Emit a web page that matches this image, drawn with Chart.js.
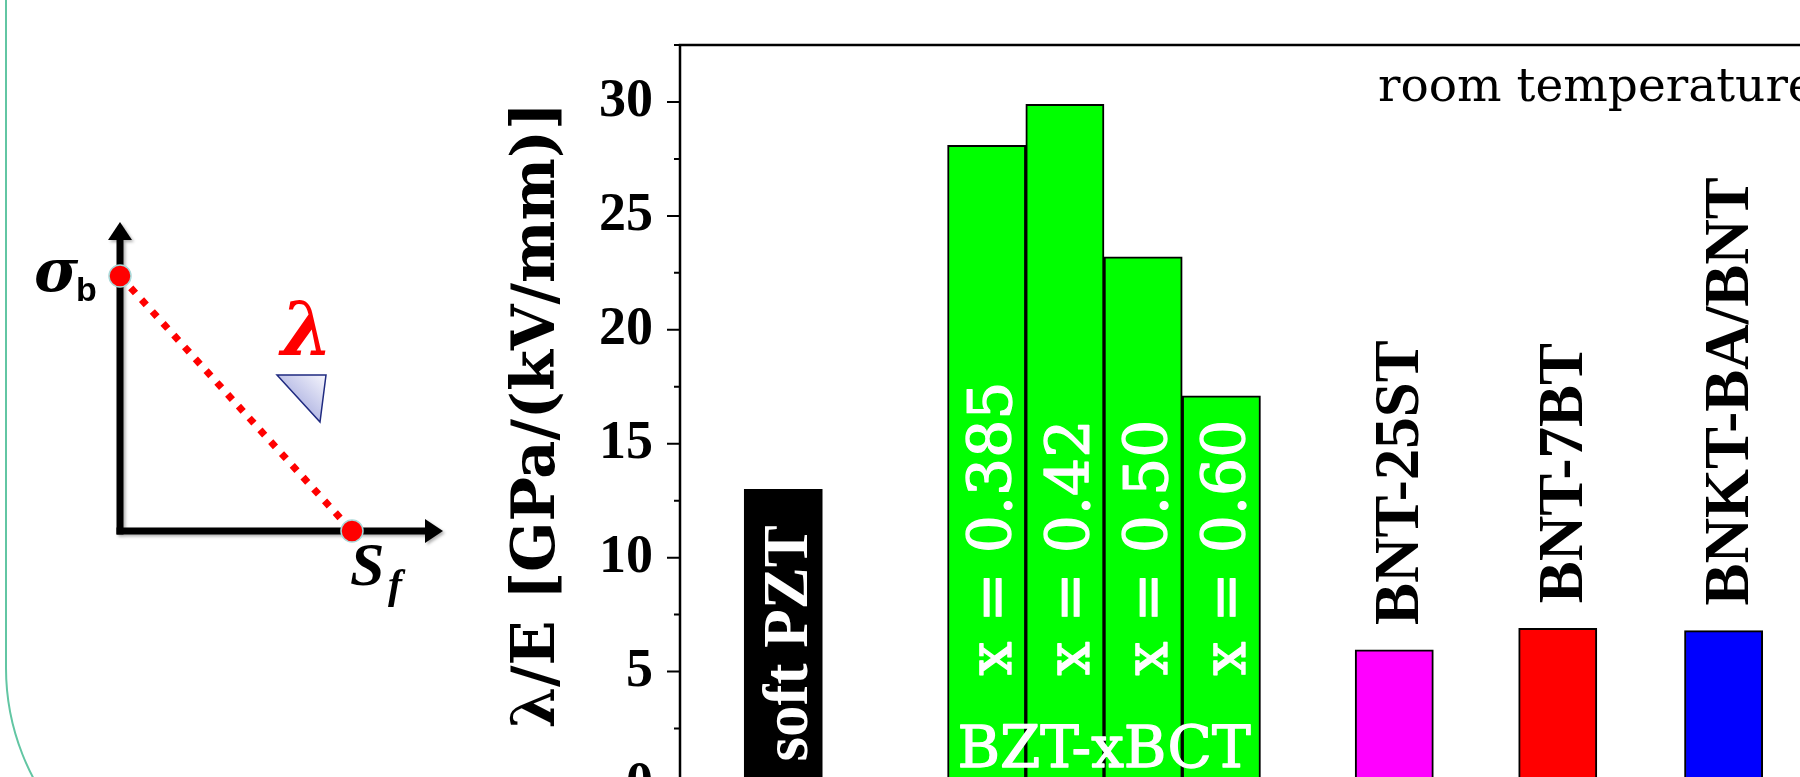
<!DOCTYPE html>
<html>
<head>
<meta charset="utf-8">
<script src="https://cdn.jsdelivr.net/npm/chart.js@4.4.1/dist/chart.umd.min.js"></script>
<style>
html,body{margin:0;padding:0;background:#fff;overflow:hidden;width:1800px;height:777px;}
#wrap{position:relative;width:1800px;height:777px;overflow:hidden;background:#fff;}
#c{position:absolute;left:0;top:0;}
#inset{position:absolute;left:0;top:0;pointer-events:none;}
</style>
</head>
<body>
<div id="wrap">
<canvas id="c" width="1880" height="840"></canvas>
<svg id="inset" width="600" height="777" viewBox="0 0 600 777">
  <defs>
    <linearGradient id="tri" x1="1" y1="0" x2="0" y2="1">
      <stop offset="0" stop-color="#f6f6fd"/>
      <stop offset="1" stop-color="#8a91d4"/>
    </linearGradient>
    <filter id="sh" x="-20%" y="-20%" width="140%" height="140%">
      <feDropShadow dx="2" dy="2" stdDeviation="1.5" flood-color="#000" flood-opacity="0.3"/>
    </filter>
  </defs>
  <path d="M6,-2 L6,668 A235,235 0 0 0 241,903" fill="none" stroke="#62c6a3" stroke-width="2"/>
  <g filter="url(#sh)">
    <line x1="120" y1="534.5" x2="120" y2="236" stroke="#000" stroke-width="7"/>
    <polygon points="120,222 108,240 132,240" fill="#000"/>
    <line x1="116.5" y1="531" x2="428" y2="531" stroke="#000" stroke-width="7"/>
    <polygon points="443,531 425,519 425,543" fill="#000"/>
  </g>
  <line x1="120" y1="276" x2="352" y2="531" stroke="#f00" stroke-width="7" stroke-dasharray="7 9"/>
  <circle cx="120" cy="276" r="11" fill="#f00" stroke="#a9d9d9" stroke-width="1.5"/>
  <circle cx="352" cy="531" r="11" fill="#f00" stroke="#a9d9d9" stroke-width="1.5"/>
  <text x="34" y="291" font-family="DejaVu Serif" font-weight="bold" font-style="italic" font-size="60">σ</text>
  <text x="76" y="301" font-family="Liberation Sans" font-weight="bold" font-size="34">b</text>
  <text x="281" y="355" fill="#f00" font-family="DejaVu Serif" font-weight="bold" font-style="italic" font-size="74">λ</text>
  <polygon points="277,375 326,375 320,422" fill="url(#tri)" stroke="#1f2a80" stroke-width="1.5"/>
  <text x="350" y="585" font-family="Liberation Serif" font-style="italic" font-weight="bold" font-size="62">S</text>
  <text x="388" y="598" font-family="Liberation Serif" font-style="italic" font-weight="bold" font-size="42">f</text>
</svg>
</div>
<script>
// ---- data ----
const categories = ['soft PZT', 'x = 0.385', 'x = 0.42', 'x = 0.50', 'x = 0.60', 'BNT-25ST', 'BNT-7BT', 'BNKT-BA/BNT'];
const groups     = ['', 'BZT-xBCT', 'BZT-xBCT', 'BZT-xBCT', 'BZT-xBCT', '', '', ''];
const xPositions = [1.32, 3.92, 4.92, 5.92, 6.92, 9.13, 11.22, 13.34];
const values     = [13.0, 28.1, 29.9, 23.2, 17.1, 5.95, 6.9, 6.8];
const yTicks     = [0, 5, 10, 15, 20, 25, 30];
const yMinorTicks = [2.5, 7.5, 12.5, 17.5, 22.5, 27.5, 32.5];
const yTitle     = 'λ/E [GPa/(kV/mm)]';
const note       = 'room temperature';

// ---- styles ----
const barColors  = ['#000000', '#00ff00', '#00ff00', '#00ff00', '#00ff00', '#ff00ff', '#ff0000', '#0000ff'];
const labelModes = ['inside-bold', 'inside', 'inside', 'inside', 'inside', 'above', 'above', 'above'];

function rotText(ctx, text, x, y, font, color, stroke) {
  ctx.save();
  ctx.translate(x, y);
  ctx.rotate(-Math.PI / 2);
  ctx.font = font;
  ctx.fillStyle = color;
  ctx.textAlign = 'left';
  ctx.textBaseline = 'alphabetic';
  ctx.fillText(text, 0, 0);
  if (stroke) {
    ctx.strokeStyle = color;
    ctx.lineWidth = stroke;
    ctx.lineJoin = 'round';
    ctx.strokeText(text, 0, 0);
  }
  ctx.restore();
}

const framePlugin = {
  id: 'frame',
  afterDraw(chart) {
    const {ctx, chartArea: ca} = chart;
    const ys = chart.scales.y;
    ctx.save();
    ctx.strokeStyle = '#000';
    ctx.lineWidth = 2;
    ctx.beginPath();
    yTicks.forEach(v => { const p = ys.getPixelForValue(v); ctx.moveTo(ca.left - 13, p); ctx.lineTo(ca.left, p); });
    yMinorTicks.forEach(v => { const p = ys.getPixelForValue(v); ctx.moveTo(ca.left - 6, p); ctx.lineTo(ca.left, p); });
    ctx.stroke();
    ctx.lineWidth = 2.5;
    ctx.strokeRect(ca.left, ca.top, ca.right - ca.left, ca.bottom - ca.top);
    ctx.restore();
  }
};

const textPlugin = {
  id: 'barText',
  afterDatasetsDraw(chart) {
    const ctx = chart.ctx;
    const meta = chart.getDatasetMeta(0);
    const ca = chart.chartArea;
    meta.data.forEach((bar, i) => {
      const mode = labelModes[i];
      if (mode === 'inside-bold') {
        rotText(ctx, categories[i], bar.x + 24, bar.base - 24, "bold 63px 'Liberation Serif'", '#ffffff');
      } else if (mode === 'inside') {
        rotText(ctx, categories[i], bar.x + 24, bar.base - 110, "60px 'DejaVu Serif'", '#ffffff', 1.3);
      } else {
        rotText(ctx, categories[i], bar.x + 24, bar.y - 25, "bold 63px 'Liberation Serif'", '#000000');
      }
    });
    // group label across the grouped bars
    const gNames = [...new Set(groups.filter(g => g))];
    gNames.forEach(g => {
      const xs = meta.data.filter((b, i) => groups[i] === g).map(b => b.x);
      const cx = xs.reduce((a, b) => a + b, 0) / xs.length;
      const base = meta.data[groups.indexOf(g)].base;
      ctx.save();
      ctx.font = "58px 'DejaVu Serif'";
      ctx.fillStyle = '#ffffff';
      ctx.strokeStyle = '#ffffff';
      ctx.lineWidth = 1.3;
      ctx.lineJoin = 'round';
      ctx.textAlign = 'center';
      ctx.textBaseline = 'alphabetic';
      ctx.fillText(g, cx, base - 19);
      ctx.strokeText(g, cx, base - 19);
      ctx.restore();
    });
    // note
    ctx.save();
    ctx.font = "47px 'DejaVu Serif'";
    ctx.fillStyle = '#000';
    ctx.textAlign = 'left';
    ctx.textBaseline = 'alphabetic';
    ctx.fillText(note, ca.left + 698, ca.top + 56);
    ctx.restore();
  }
};

new Chart(document.getElementById('c'), {
  type: 'bar',
  data: {
    labels: categories,
    datasets: [{
      data: xPositions.map((x, i) => ({x: x, y: values[i]})),
      backgroundColor: barColors,
      borderColor: '#000000',
      borderWidth: 2,
      barPercentage: 1,
      categoryPercentage: 1
    }]
  },
  options: {
    responsive: false,
    devicePixelRatio: 1,
    animation: false,
    layout: {padding: {left: 0, top: 45, right: 50, bottom: 54.5}},
    plugins: {legend: {display: false}, tooltip: {enabled: false}, title: {display: false}},
    scales: {
      x: {
        type: 'linear', display: false, offset: false, min: 0, max: 14.7,
        ticks: {stepSize: 100}
      },
      y: {
        min: 0, max: 32.5,
        afterBuildTicks: s => { s.ticks = yTicks.map(v => ({value: v})); },
        afterFit: s => { s.width = 680; s.paddingTop = 0; s.paddingBottom = 0; },
        grid: {display: false, drawTicks: false},
        border: {display: false},
        ticks: {
          autoSkip: false, padding: 27, color: '#000',
          font: {family: "'Liberation Serif'", weight: 'bold', size: 54}
        },
        title: {
          display: true, text: yTitle, color: '#000',
          font: {family: "'DejaVu Serif'", weight: 'bold', size: 59},
          padding: {top: 503, bottom: 0}
        }
      }
    }
  },
  plugins: [framePlugin, textPlugin]
});
</script>
</body>
</html>
